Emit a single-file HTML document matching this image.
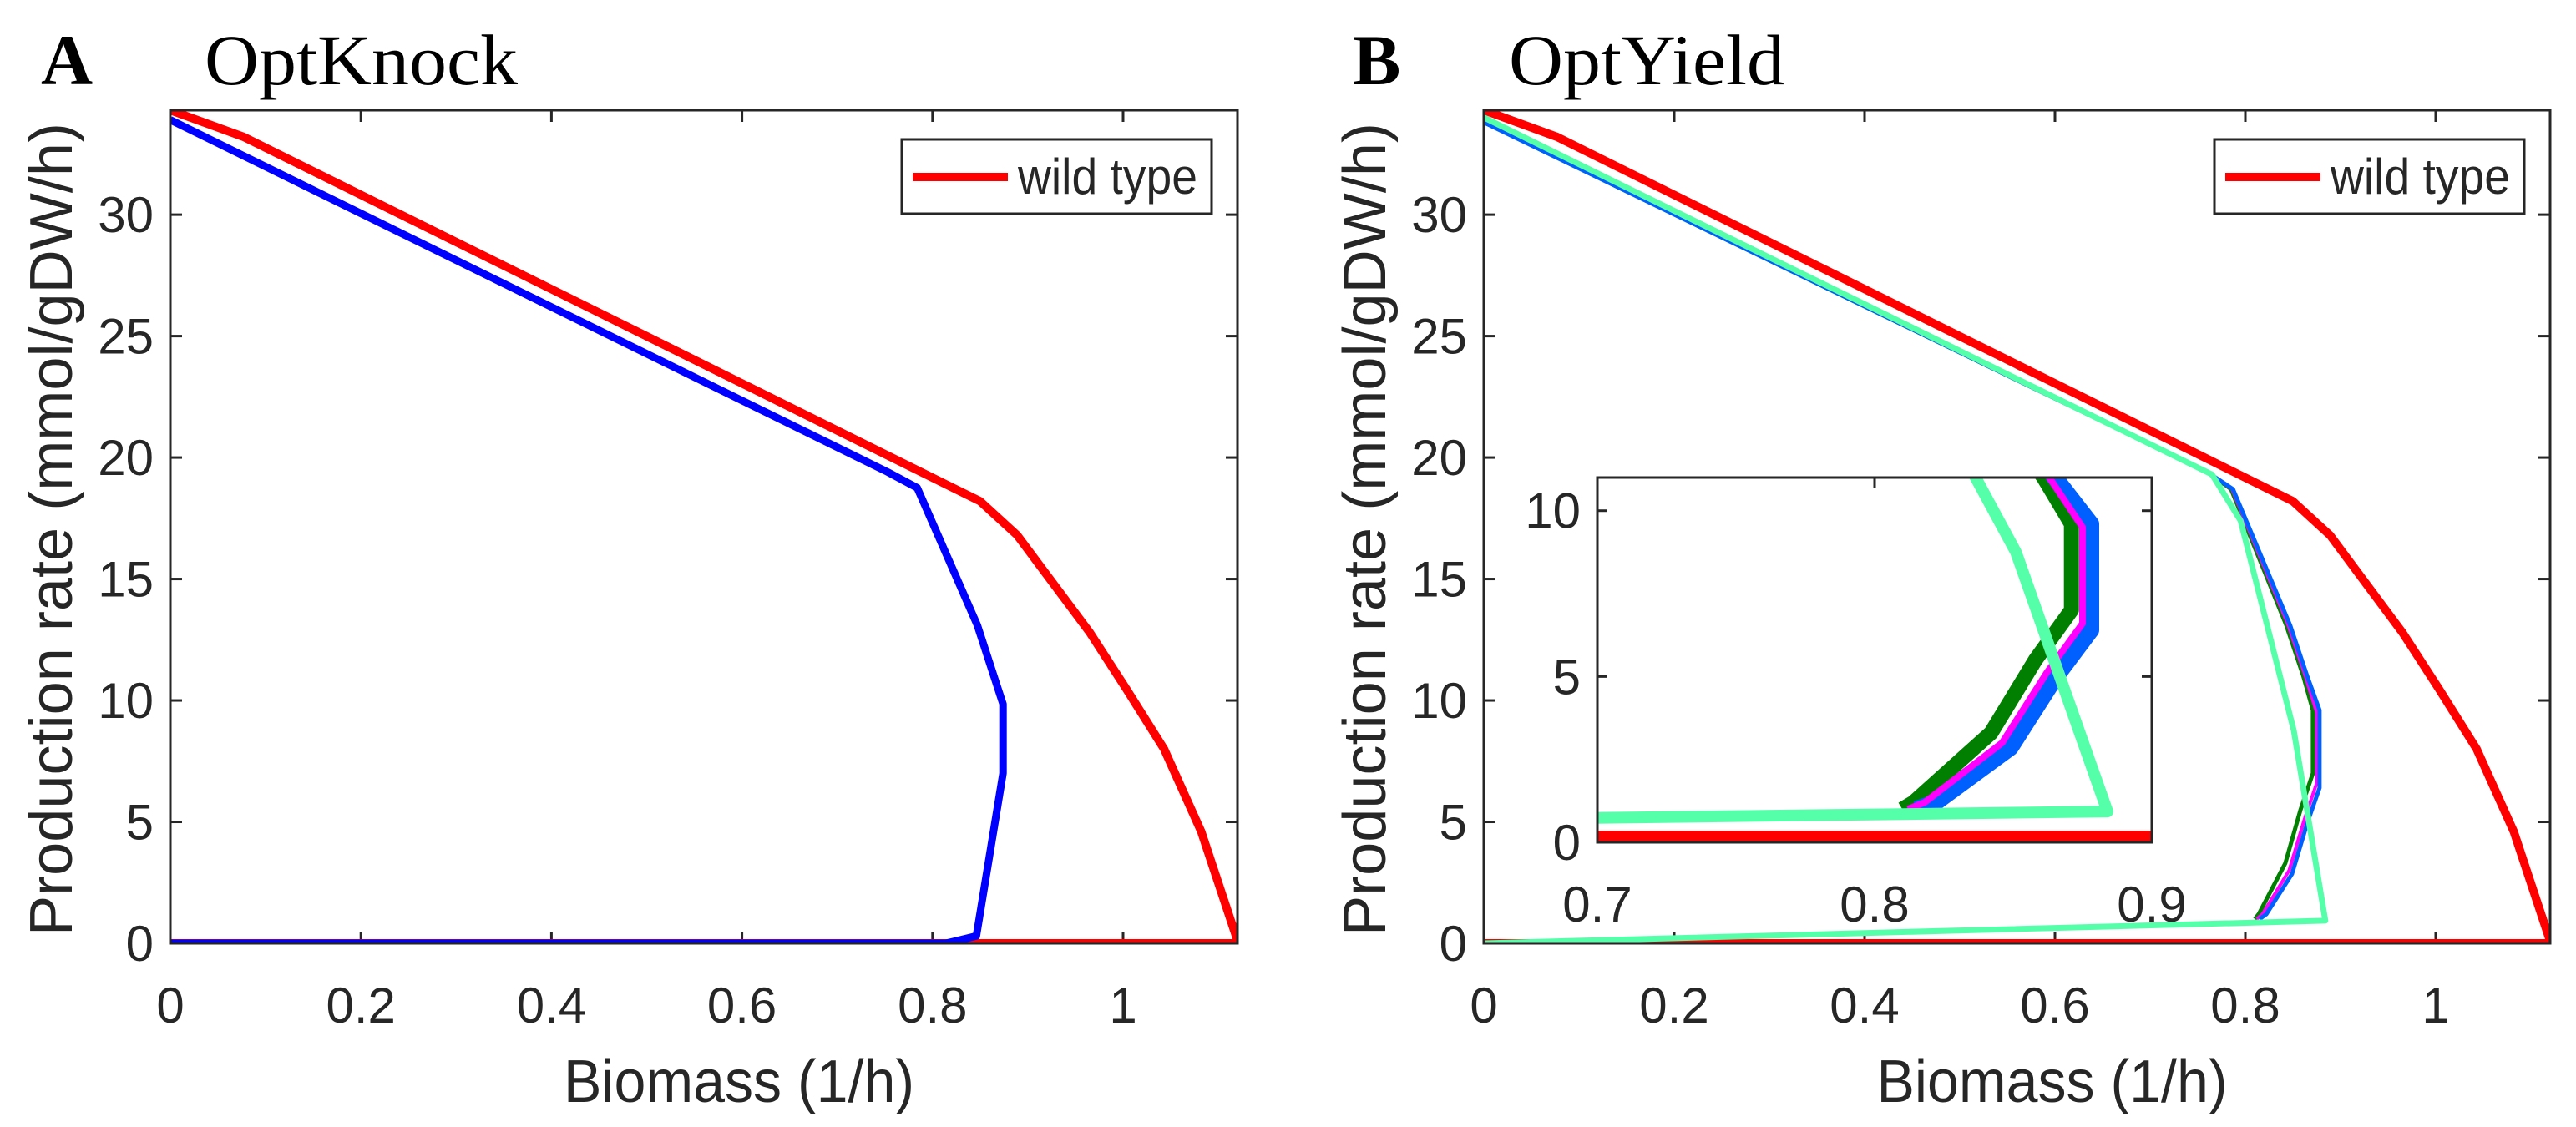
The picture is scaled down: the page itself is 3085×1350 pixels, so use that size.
<!DOCTYPE html>
<html><head><meta charset="utf-8"><style>
html,body{margin:0;padding:0;background:#fff;}
svg{display:block;}
text{font-family:"Liberation Sans",sans-serif;fill:#262626;}
.serif{font-family:"Liberation Serif",serif;fill:#000;}
</style></head><body>
<svg id="fig" width="3085" height="1350" viewBox="0 0 3085 1350" xmlns="http://www.w3.org/2000/svg">
<text class="serif" x="49" y="101" font-size="86" font-weight="bold">A</text>
<text class="serif" x="245" y="101" font-size="86" textLength="375" lengthAdjust="spacingAndGlyphs">OptKnock</text>
<text class="serif" x="1620" y="101" font-size="86" font-weight="bold">B</text>
<text class="serif" x="1807" y="101" font-size="86" textLength="330" lengthAdjust="spacingAndGlyphs">OptYield</text>
</svg>
<script>
// ---- data ----
const xTicks = [0, 0.2, 0.4, 0.6, 0.8, 1];
const xTickLabels = ["0", "0.2", "0.4", "0.6", "0.8", "1"];
const yTicks = [0, 5, 10, 15, 20, 25, 30];
const yTickLabels = ["0", "5", "10", "15", "20", "25", "30"];
const insetXTicks = [0.7, 0.8, 0.9];
const insetXTickLabels = ["0.7", "0.8", "0.9"];
const insetYTicks = [0, 5, 10];
const insetYTickLabels = ["0", "5", "10"];

const wildX = [0, 0.077, 0.85, 0.889, 0.965, 1.003, 1.043, 1.082, 1.121, 0];
const wildY = [34.3, 33.2, 18.2, 16.8, 12.8, 10.5, 8.0, 4.6, 0, 0];

const knockX = [0, 0.753, 0.784, 0.847, 0.874, 0.874, 0.846, 0.814, 0];
const knockY = [33.9, 19.4, 18.75, 13.1, 9.85, 7.0, 0.3, 0, 0];

const yieldBlueX = [0, 0.76, 0.787, 0.847, 0.865, 0.878, 0.878, 0.865, 0.849, 0.822, 0.815];
const yieldBlueY = [33.8, 19.4, 18.7, 13.1, 11.0, 9.6, 6.4, 4.95, 2.86, 1.2, 1.0];
const yieldMagentaX = [0, 0.76, 0.786, 0.845, 0.863, 0.875, 0.875, 0.862, 0.846, 0.818, 0.812];
const yieldMagentaY = [33.8, 19.4, 18.7, 13.1, 11.0, 9.5, 6.6, 5.1, 3.0, 1.2, 1.0];
const yieldDkGreenX = [0, 0.76, 0.785, 0.843, 0.861, 0.871, 0.871, 0.858, 0.842, 0.814, 0.810];
const yieldDkGreenY = [33.8, 19.4, 18.7, 13.1, 11.0, 9.6, 7.0, 5.5, 3.3, 1.2, 1.0];
const yieldGreenX = [0, 0.765, 0.795, 0.851, 0.884, 0];
const yieldGreenY = [34.0, 19.3, 17.4, 8.75, 0.93, 0];

// ---- helpers ----
const NS = "http://www.w3.org/2000/svg";
const svg = document.getElementById("fig");
function mk(tag, attrs, parent) {
  const e = document.createElementNS(NS, tag);
  for (const k in attrs) e.setAttribute(k, attrs[k]);
  (parent || svg).appendChild(e);
  return e;
}
function scale(d0, d1, p0, p1) { return v => p0 + (v - d0) / (d1 - d0) * (p1 - p0); }

let clipCount = 0;
function axesBox(L, R, T, B, xs, ys, xt, xl, yt, yl, prefix, fs, tickLen) {
  const g = mk("g", {});
  
  
  mk("rect", {x: L, y: T, width: R - L, height: B - T, fill: "#fff"}, g);
  xt.forEach((v, i) => {
    const x = xs(v);
    mk("line", {x1: x, y1: B, x2: x, y2: B - tickLen, stroke: "#262626", "stroke-width": 3}, g);
    mk("line", {x1: x, y1: T, x2: x, y2: T + tickLen, stroke: "#262626", "stroke-width": 3}, g);
    const t = mk("text", {x: x, y: B + 95 * fs / 60, "font-size": fs, "text-anchor": "middle"}, g);
    
    
    t.textContent = xl[i];
  });
  yt.forEach((v, i) => {
    const y = ys(v);
    mk("line", {x1: L, y1: y, x2: L + tickLen, y2: y, stroke: "#262626", "stroke-width": 3}, g);
    mk("line", {x1: R, y1: y, x2: R - tickLen, y2: y, stroke: "#262626", "stroke-width": 3}, g);
    const t = mk("text", {x: L - 20, y: y + 21, "font-size": fs, "text-anchor": "end"}, g);
    
    
    t.textContent = yl[i];
  });
  const id = "clip" + (clipCount++);
  const cp = mk("clipPath", {id: id});
  mk("rect", {x: L, y: T, width: R - L, height: B - T}, cp);
  const plot = mk("g", {"clip-path": "url(#" + id + ")"}, g);
  return {g, plot, frame: () => mk("rect", {x: L, y: T, width: R - L, height: B - T, fill: "none", stroke: "#262626", "stroke-width": 3}, g)};
}
function series(parent, xsArr, ysArr, xs, ys, color, w, name) {
  const pts = xsArr.map((v, i) => xs(v).toFixed(1) + "," + ys(ysArr[i]).toFixed(1)).join(" ");
  const p = mk("polyline", {points: pts, fill: "none", stroke: color, "stroke-width": w, "stroke-linejoin": "round"}, parent);
  
  
  return p;
}
function labels(L, R, T, B, prefix) {
  const xl = mk("text", {x: (L + R) / 2 + 42, y: 1320, "font-size": 72, "text-anchor": "middle", textLength: 420, lengthAdjust: "spacingAndGlyphs"});
  
  
  xl.textContent = "Biomass (1/h)";
  const cy = 634, cx = L - 118;
  const yl = mk("text", {x: cx, y: cy, "font-size": 72, "text-anchor": "middle", transform: "rotate(-90 " + cx + " " + cy + ")", textLength: 974, lengthAdjust: "spacingAndGlyphs"});
  
  
  yl.textContent = "Production rate (mmol/gDW/h)";
}
function legend(x0, prefix) {
  const g = mk("g", {});
  
  
  mk("rect", {x: x0, y: 167, width: 371, height: 89, fill: "#fff", stroke: "#262626", "stroke-width": 3}, g);
  mk("line", {x1: x0 + 13, y1: 212, x2: x0 + 127, y2: 212, stroke: "#ff0000", "stroke-width": 10}, g);
  const t = mk("text", {x: x0 + 139, y: 232, "font-size": 60, textLength: 215, lengthAdjust: "spacingAndGlyphs"}, g);
  
  
  t.textContent = "wild type";
}

// ---- Panel A ----
{
  const L = 204, R = 1482, T = 132, B = 1130;
  const xs = scale(0, 1, L, L + 1141), ys = scale(0, 34.3, B, T);
  const ax = axesBox(L, R, T, B, xs, ys, xTicks, xTickLabels, yTicks, yTickLabels, "panel-a", 60, 14);
  series(ax.plot, wildX, wildY, xs, ys, "#ff0000", 10, "panel-a-wild-type-line");
  series(ax.plot, knockX, knockY, xs, ys, "#0000ff", 9, "panel-a-optknock-line");
  ax.frame();
  labels(L, R, T, B, "panel-a");
  legend(1080, "panel-a");
}
// ---- Panel B ----
{
  const L = 1777, R = 3054, T = 132, B = 1130;
  const xs = scale(0, 1, L, L + 1140), ys = scale(0, 34.3, B, T);
  const ax = axesBox(L, R, T, B, xs, ys, xTicks, xTickLabels, yTicks, yTickLabels, "panel-b", 60, 14);
  series(ax.plot, wildX, wildY, xs, ys, "#ff0000", 10, "panel-b-wild-type-line");
  series(ax.plot, yieldDkGreenX, yieldDkGreenY, xs, ys, "#007f00", 5, "panel-b-dark-green-line");
  series(ax.plot, yieldMagentaX, yieldMagentaY, xs, ys, "#ff00ff", 4, "panel-b-magenta-line");
  series(ax.plot, yieldBlueX, yieldBlueY, xs, ys, "#0060ff", 5, "panel-b-blue-line");
  series(ax.plot, yieldGreenX, yieldGreenY, xs, ys, "#55ffaa", 7, "panel-b-aquamarine-line");
  ax.frame();
  labels(L, R, T, B, "panel-b");
  legend(2652, "panel-b");

  // inset
  const iL = 1913, iR = 2577, iT = 572, iB = 1009;
  const ixs = scale(0.7, 0.9, iL, iR), iys = scale(0, 11, iB, iT);
  const inset = axesBox(iL, iR, iT, iB, ixs, iys, insetXTicks, insetXTickLabels, insetYTicks, insetYTickLabels, "inset", 60, 12);
  
  series(inset.plot, wildX, wildY, ixs, iys, "#ff0000", 28, "inset-wild-type-line");
  series(inset.plot, yieldDkGreenX, yieldDkGreenY, ixs, iys, "#007f00", 18, "inset-dark-green-line");
  series(inset.plot, yieldBlueX, yieldBlueY, ixs, iys, "#0060ff", 20, "inset-blue-line");
  series(inset.plot, yieldMagentaX, yieldMagentaY, ixs, iys, "#ff00ff", 8, "inset-magenta-line");
  series(inset.plot, yieldGreenX, yieldGreenY, ixs, iys, "#55ffaa", 14, "inset-aquamarine-line");
  inset.frame();
}
</script>
</body></html>
